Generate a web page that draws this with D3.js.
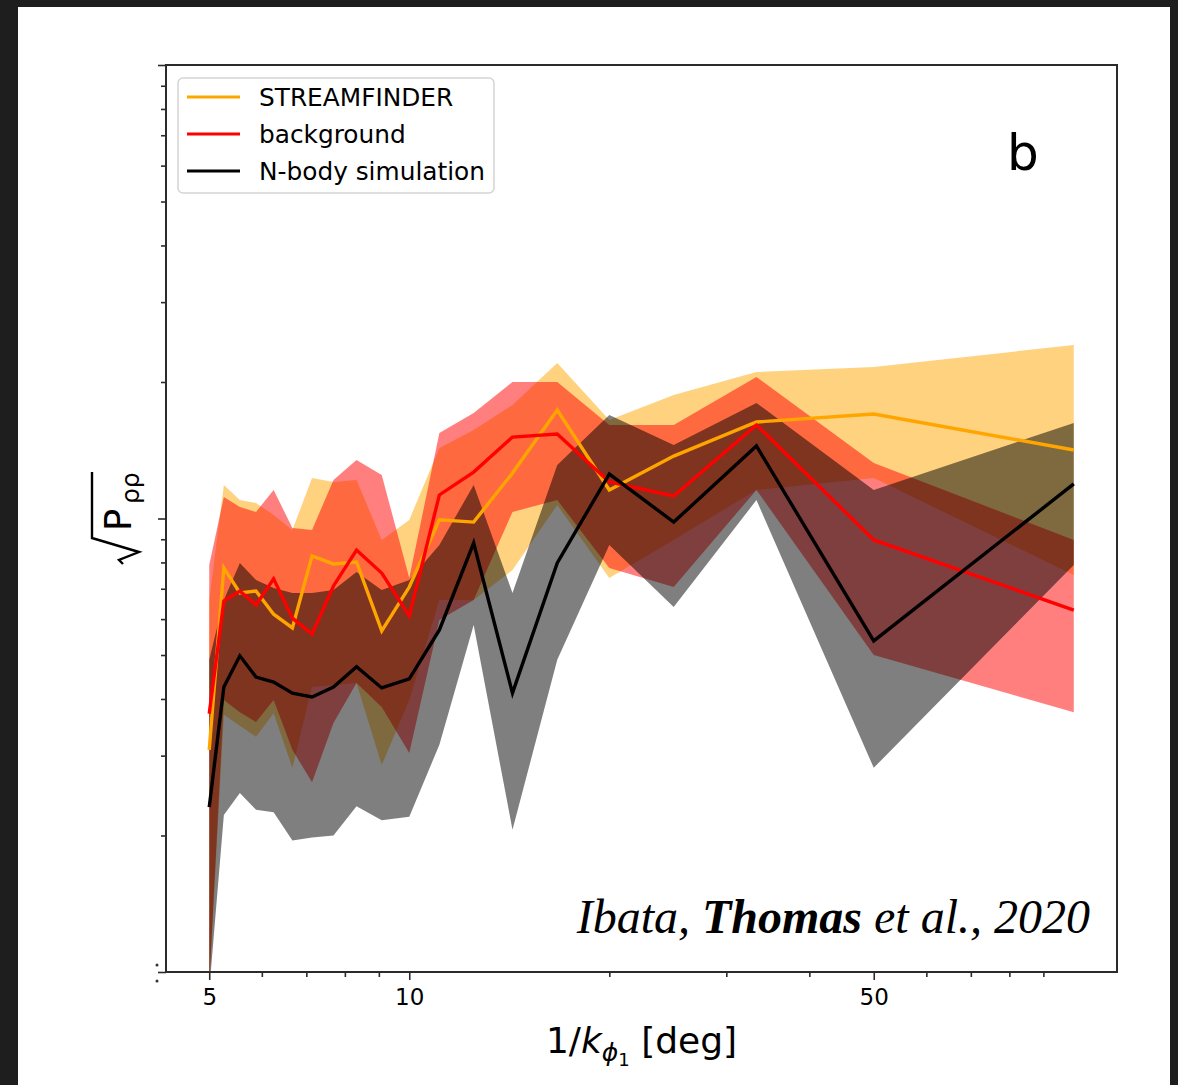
<!DOCTYPE html>
<html>
<head>
<meta charset="utf-8">
<script src="https://cdn.jsdelivr.net/npm/d3@7/dist/d3.min.js"></script>
<style>
  html, body { margin: 0; padding: 0; background: #1e1e1e; }
  svg { display: block; }
  text { font-family: "DejaVu Sans", sans-serif; fill: #000; }
  text.credit { font-family: "Liberation Serif", "Times New Roman", serif; font-style: italic; }
</style>
</head>
<body>
<svg id="chart" width="1178" height="1085"></svg>
<script>
// Scale 1/k_phi1 in degrees (k = 20 ... 1)
const scales = [5.00, 5.26, 5.56, 5.88, 6.25, 6.67, 7.14, 7.69, 8.33, 9.09,
                10.0, 11.1, 12.5, 14.3, 16.7, 20.0, 25.0, 33.3, 50.0, 100.0];

// STREAMFINDER: median and 1-sigma envelope of sqrt(P_rho_rho)
const sfMid = [3.09, 7.78, 6.85, 6.92, 6.15, 5.74, 8.27, 7.94, 8.02, 5.65,
               7.06, 9.93, 9.82, 12.6, 17.35, 11.56, 13.73, 16.32, 17.0, 14.16];
const sfHi  = [6.61, 11.86, 10.98, 10.82, 10.18, 9.43, 12.28, 12.04, 12.16, 8.97,
               9.93, 14.30, 15.67, 17.80, 22.03, 16.49, 18.72, 21.04, 21.58, 24.13];
const sfLo  = [0.94, 3.69, 3.49, 3.30, 3.72, 2.82, 4.25, 4.29, 4.34, 2.86,
               3.98, 6.61, 6.61, 7.70, 10.71, 7.39, 8.97, 11.56, 12.28, 7.51];

// background
const bgMid = [3.71, 6.58, 6.92, 6.45, 7.36, 6.03, 5.56, 7.10, 8.52, 7.58,
               6.10, 11.27, 12.66, 15.12, 15.36, 12.04, 11.21, 16.08, 8.97, 6.28];
const bgHi  = [7.90, 11.15, 10.60, 10.34, 11.56, 9.53, 9.43, 12.16, 13.46, 12.47,
               7.39, 15.44, 17.08, 20.0, 20.0, 16.08, 16.08, 20.51, 13.26, 8.97];
const bgLo  = [0.94, 3.98, 3.74, 3.56, 3.98, 3.09, 2.62, 3.54, 4.34, 3.84,
               3.04, 5.97, 6.61, 10.34, 10.98, 7.78, 7.06, 11.56, 5.00, 3.74];

// N-body simulation
const nbMid = [2.31, 4.25, 4.98, 4.47, 4.36, 4.12, 4.04, 4.25, 4.71, 4.23,
               4.43, 5.68, 8.83, 4.12, 7.98, 12.53, 9.82, 14.45, 5.37, 11.92];
const nbHi  = [4.88, 6.61, 7.98, 7.32, 7.03, 6.85, 6.85, 6.96, 7.62, 6.96,
               7.32, 8.74, 11.86, 6.85, 13.12, 16.91, 14.52, 17.98, 11.56, 16.24];
const nbLo  = [0.91, 2.22, 2.48, 2.28, 2.25, 1.95, 1.98, 2.00, 2.32, 2.16,
               2.20, 3.17, 5.82, 2.06, 4.88, 8.74, 6.38, 10.98, 2.82, 7.90];

const xMinorTicks = [6, 7, 8, 9, 20, 30, 40, 60, 70, 80, 90];
const xTickLabels = [5, 10, 50];
const yMajorTicks = [1, 10, 100];
const yMinorTicks = [2, 3, 4, 5, 6, 7, 8, 9, 20, 30, 40, 50, 60, 70, 80, 90];

const series = [
  { name: "STREAMFINDER",      color: "#ffa500", mid: sfMid, hi: sfHi, lo: sfLo },
  { name: "background",        color: "#ff0000", mid: bgMid, hi: bgHi, lo: bgLo },
  { name: "N-body simulation", color: "#000000", mid: nbMid, hi: nbHi, lo: nbLo }
];

const svg = d3.select("#chart");
const W = 1178, H = 1085;

// white figure canvas inside the dark window frame
svg.append("rect").attr("x", 18).attr("y", 7).attr("width", 1152).attr("height", H - 7).attr("fill", "#ffffff");

const plot = { left: 166, right: 1117, top: 65, bottom: 972 };

// matplotlib-style 5% log margins around the data range 5..100
const pad = 0.05 * Math.log10(100 / 5);
const x = d3.scaleLog()
  .domain([5 / Math.pow(10, pad), 100 * Math.pow(10, pad)])
  .range([plot.left, plot.right]);
const y = d3.scaleLog().domain([1, 100]).range([plot.bottom, plot.top]);

svg.append("clipPath").attr("id", "plotClip")
  .append("rect")
  .attr("x", plot.left).attr("y", plot.top)
  .attr("width", plot.right - plot.left).attr("height", plot.bottom - plot.top);

const layer = svg.append("g").attr("clip-path", "url(#plotClip)");

// shaded envelopes
series.forEach(s => {
  const area = d3.area()
    .x((d, i) => x(scales[i]))
    .y0((d, i) => y(s.lo[i]))
    .y1((d, i) => y(s.hi[i]));
  layer.append("path")
    .datum(scales)
    .attr("d", area)
    .attr("fill", s.color)
    .attr("fill-opacity", 0.5)
    .attr("stroke", "none");
});

// median curves
series.forEach(s => {
  const line = d3.line()
    .x((d, i) => x(scales[i]))
    .y((d, i) => y(s.mid[i]));
  layer.append("path")
    .datum(scales)
    .attr("d", line)
    .attr("fill", "none")
    .attr("stroke", s.color)
    .attr("stroke-width", 3.4)
    .attr("stroke-linejoin", "miter");
});

// axes ticks
const tickColor = "#2b2b2b";
const gx = svg.append("g").attr("transform", `translate(0,${plot.bottom})`);
gx.call(d3.axisBottom(x).tickValues(xMinorTicks).tickSize(5).tickFormat(""));
gx.call(g => g.select(".domain").remove());
const gx2 = svg.append("g").attr("transform", `translate(0,${plot.bottom})`);
gx2.call(d3.axisBottom(x).tickValues(xTickLabels).tickSize(8).tickPadding(9).tickFormat(d3.format("d")));
gx2.call(g => g.select(".domain").remove());
gx2.selectAll("text").attr("font-size", 23).style("font-family", "DejaVu Sans").attr("fill", "#000");

const gy = svg.append("g").attr("transform", `translate(${plot.left},0)`);
gy.call(d3.axisLeft(y).tickValues(yMinorTicks).tickSize(5).tickFormat(""));
gy.call(g => g.select(".domain").remove());
const gy2 = svg.append("g").attr("transform", `translate(${plot.left},0)`);
gy2.call(d3.axisLeft(y).tickValues(yMajorTicks).tickSize(8).tickFormat(""));
gy2.call(g => g.select(".domain").remove());
svg.selectAll(".tick line").attr("stroke", tickColor).attr("stroke-width", 1.6);

// remnant of a clipped tick label at the lower-left corner
[-7, 9].forEach(dy => {
  svg.append("circle").attr("cx", plot.left - 9).attr("cy", plot.bottom + dy).attr("r", 1.5).attr("fill", "#333");
});

// spines
svg.append("rect")
  .attr("x", plot.left).attr("y", plot.top)
  .attr("width", plot.right - plot.left).attr("height", plot.bottom - plot.top)
  .attr("fill", "none").attr("stroke", tickColor).attr("stroke-width", 2);

// x-axis label: 1/k_{phi_1} [deg]
const xl = svg.append("text")
  .attr("x", (plot.left + plot.right) / 2)
  .attr("y", 1053)
  .attr("text-anchor", "middle")
  .attr("font-size", 36);
xl.append("tspan").text("1/");
xl.append("tspan").attr("font-style", "italic").text("k");
xl.append("tspan").attr("font-style", "italic").attr("font-size", 25).attr("dy", 8).text("ϕ");
xl.append("tspan").attr("font-size", 18).attr("dy", 5).text("1");
xl.append("tspan").attr("dy", -13).text(" [deg]");

// y-axis label: sqrt(P_rho rho)
const yl = svg.append("g").attr("transform", "translate(131,518) rotate(-90)");
yl.append("text").attr("x", -13).attr("y", 0).attr("font-size", 37).text("P");
yl.append("text").attr("x", 14).attr("y", 8).attr("font-size", 25).text("ρρ");
yl.append("path")
  .attr("d", "M -46,-8 L -42,-12 L -34,8 L -20,-39 L 46,-39")
  .attr("fill", "none").attr("stroke", "#000").attr("stroke-width", 2.4)
  .attr("stroke-linejoin", "miter");

// panel letter
svg.append("text").attr("x", 1007).attr("y", 170).attr("font-size", 50).text("b");

// credit
const cr = svg.append("text")
  .attr("class", "credit")
  .attr("x", 1090).attr("y", 933)
  .attr("text-anchor", "end")
  .attr("font-size", 48);
cr.append("tspan").text("Ibata, ");
cr.append("tspan").attr("font-weight", "bold").text("Thomas");
cr.append("tspan").text(" et al., 2020");

// legend
const lg = svg.append("g").attr("transform", "translate(178,78)");
lg.append("rect").attr("width", 316).attr("height", 115).attr("rx", 5)
  .attr("fill", "#ffffff").attr("fill-opacity", 0.8)
  .attr("stroke", "#d4d4d4").attr("stroke-width", 1.5);
series.forEach((s, i) => {
  const cy = 19 + i * 37;
  lg.append("line").attr("x1", 9).attr("x2", 62).attr("y1", cy).attr("y2", cy)
    .attr("stroke", s.color).attr("stroke-width", 3);
  lg.append("text").attr("x", 81).attr("y", cy + 9).attr("font-size", 24.8).text(s.name);
});
</script>
</body>
</html>
